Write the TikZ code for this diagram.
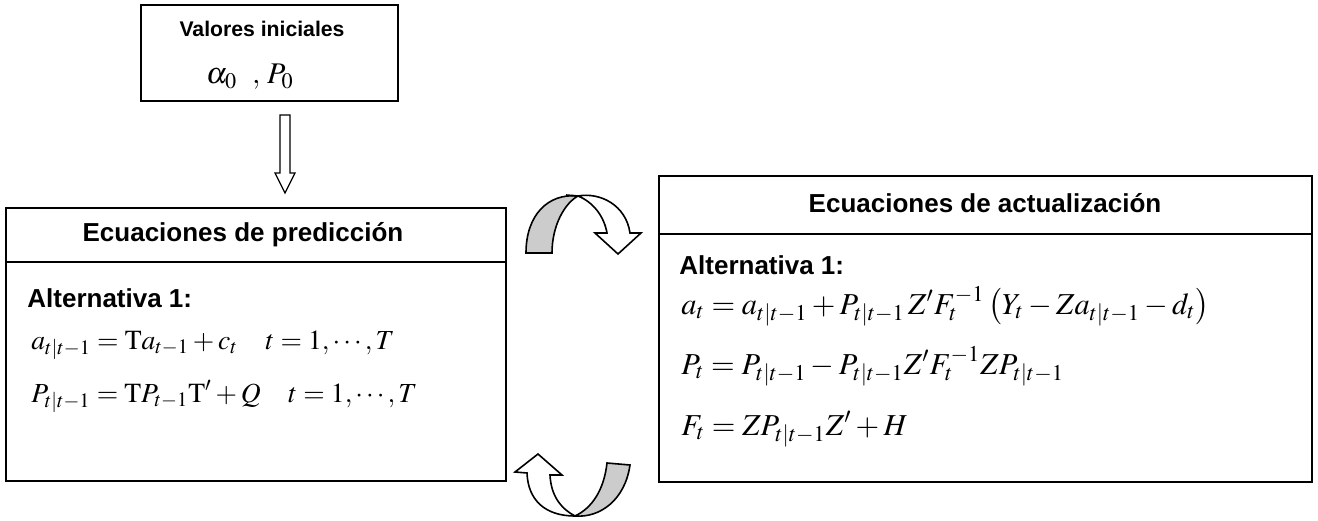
\documentclass[tikz,border=0pt]{standalone}
\usepackage{mathptmx}
\usepackage{fontspec}
\setmainfont{Liberation Serif}
\setsansfont{Liberation Sans}
\begin{document}
\begin{tikzpicture}[x=0.5pt,y=-0.5pt,
  box/.style={draw, line width=1pt, inner sep=0pt},
  sep/.style={line width=1pt},
  ttl/.style={font=\sffamily\bfseries\fontsize{13}{15}\selectfont, inner sep=0pt},
  alt/.style={font=\sffamily\bfseries\fontsize{13}{15}\selectfont, inner sep=0pt},
  small/.style={font=\sffamily\bfseries\fontsize{10.6}{12}\selectfont, inner sep=0pt},
  eqL/.style={font=\fontsize{13.8}{16}\selectfont, inner sep=0pt},
  eqR/.style={font=\fontsize{15.2}{18}\selectfont, inner sep=0pt},
  eqT/.style={font=\fontsize{15}{18}\selectfont, inner sep=0pt},
  blockarrow/.style={draw, line width=0.6pt, fill=white, line join=miter},
  backband/.style={draw, line width=0.8pt, fill=black!20},
  frontband/.style={draw, line width=0.8pt, fill=white}]
\useasboundingbox (0,0) rectangle (1318,520);

% boxes
\node[box, minimum width=128.5pt, minimum height=48pt] (init) at (269.5,53) {};
\node[box, minimum width=250pt, minimum height=136.5pt] (pred) at (256,344.5) {};
\node[box, minimum width=326.5pt, minimum height=153pt] (upd) at (985.5,329) {};
\draw[sep] (pred.west |- 0,262) -- (pred.east |- 0,262);
\draw[sep] (upd.west |- 0,234) -- (upd.east |- 0,234);

% texts
\node[small] (vi) at (262,29) {Valores iniciales};
\node[eqT] (a0) at (250,77) {$\alpha_0\ \ ,\, P_0$};
\node[ttl] (t1) at (243,235) {Ecuaciones de predicción};
\node[alt, anchor=west] (alt1) at (27,298) {Alternativa 1:};
\node[eqL, anchor=base west] (e1) at (31,349) {$a_{t|t-1} = \mathrm{T}a_{t-1} + c_t \quad t=1,\cdots,T$};
\node[eqL, anchor=base west] (e2) at (31,402) {$P_{t|t-1} = \mathrm{T}P_{t-1}\mathrm{T}^{\prime} + Q \quad t=1,\cdots,T$};

\node[ttl] (t2) at (985,203) {Ecuaciones de actualización};
\node[alt, anchor=west] (alt2) at (679,265) {Alternativa 1:};
\node[eqR, anchor=base west] (e3) at (681,314) {$a_t = a_{t|t-1} + P_{t|t-1}\,Z^{\prime}F_t^{-1}\left(Y_t - Za_{t|t-1} - d_t\right)$};
\node[eqR, anchor=base west] (e4) at (681,374) {$P_t = P_{t|t-1} - P_{t|t-1}Z^{\prime}F_t^{-1}ZP_{t|t-1}$};
\node[eqR, anchor=base west] (e5) at (681,435) {$F_t = ZP_{t|t-1}Z^{\prime} + H$};

% down block arrow
\draw[blockarrow] (280,115) -- (290,115) -- (290,173) -- (295,173) -- (285,193)
  -- (275,173) -- (280,173) -- cycle;

% top curved arrow (prediction -> update)
\path[backband] (526,253) .. controls (526,215) and (548,193) .. (578,196)
  .. controls (565,203) and (552,225) .. (552,253) -- cycle;
\path[frontband] (566,195) -- (578,196) .. controls (600,192) and (626,205) .. (630,233)
  -- (641,233) -- (618,254) -- (595,233) -- (607,233)
  .. controls (604,216) and (593,202) .. (578,196);

% bottom curved arrow (update -> prediction)
\path[backband] (575,516) .. controls (600,518) and (625,500) .. (630,465)
  -- (607,463) .. controls (604,490) and (592,508) .. (575,516) -- cycle;
\path[frontband] (515,472) -- (538,454) -- (562,475) -- (550,475)
  .. controls (551,495) and (560,508) .. (575,516)
  .. controls (545,516) and (528,500) .. (527,473) -- cycle;
\end{tikzpicture}
\end{document}
